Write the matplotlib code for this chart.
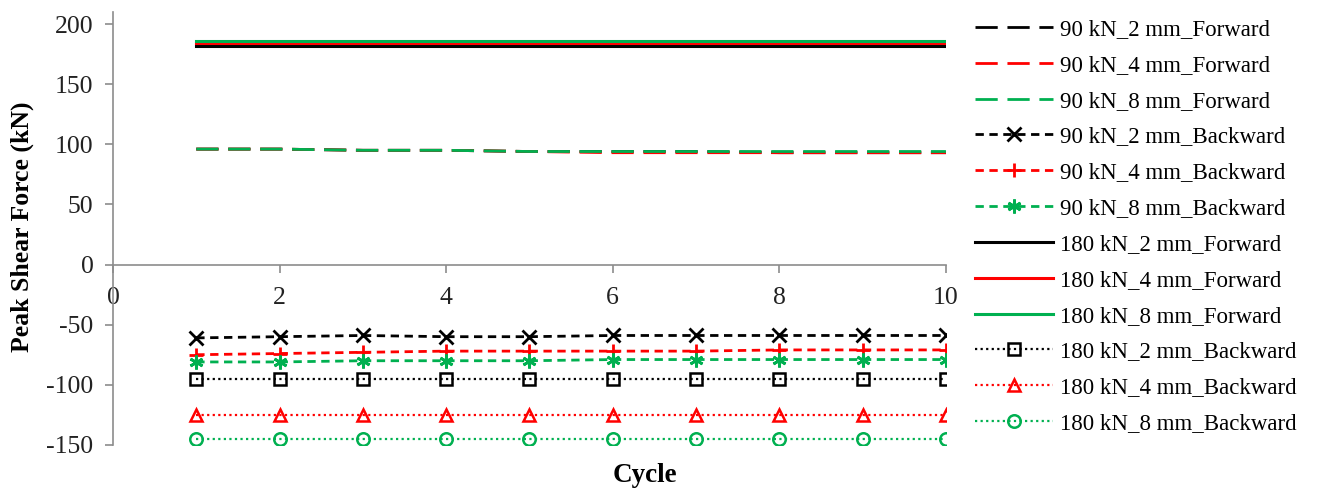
import numpy as np
import matplotlib
matplotlib.use("Agg")
import matplotlib.pyplot as plt

# data
cycles = np.arange(1, 11)

f90_2 = [96, 96, 95, 95, 94, 94, 94, 93, 93, 93]
f90_4 = [96, 96, 95, 95, 94, 93, 93, 93, 93, 93]
f90_8 = [96, 96, 95, 95, 94, 94, 94, 94, 94, 94]
b90_2 = [-61, -60, -59, -60, -60, -59, -59, -59, -59, -59]
b90_4 = [-75, -74, -73, -72, -72, -72, -72, -71, -71, -71]
b90_8 = [-81, -81, -80, -80, -80, -79, -79, -79, -79, -79]
f180_2 = [182, 182, 182, 182, 182, 182, 182, 182, 182, 182]
f180_4 = [184, 184, 184, 184, 184, 184, 184, 184, 184, 184]
f180_8 = [186, 186, 186, 186, 186, 186, 186, 186, 186, 186]
b180_2 = [-95, -95, -95, -95, -95, -95, -95, -95, -95, -95]
b180_4 = [-125, -125, -125, -125, -125, -125, -125, -125, -125, -125]
b180_8 = [-145, -145, -145, -145, -145, -145, -145, -145, -145, -145]

labels = [
    "90 kN_2 mm_Forward", "90 kN_4 mm_Forward", "90 kN_8 mm_Forward",
    "90 kN_2 mm_Backward", "90 kN_4 mm_Backward", "90 kN_8 mm_Backward",
    "180 kN_2 mm_Forward", "180 kN_4 mm_Forward", "180 kN_8 mm_Forward",
    "180 kN_2 mm_Backward", "180 kN_4 mm_Backward", "180 kN_8 mm_Backward",
]

black, red, green = "#000000", "#ff0000", "#00b050"

plt.rcParams["font.family"] = ["Liberation Serif", "DejaVu Serif"]
plt.rcParams["axes.unicode_minus"] = False

fig = plt.figure(figsize=(13.18, 4.9), dpi=100)
ax = fig.add_axes([0.0857, 0.092, 0.632, 0.8835])

# 90 kN forward: long dashes
for y, c, lab in zip([f90_2, f90_4, f90_8], [black, red, green], labels[0:3]):
    ax.plot(cycles, y, color=c, lw=2, dashes=(8, 3.5), label=lab)

# 90 kN backward: short dashes with markers
for y, c, m, lab in zip([b90_2, b90_4, b90_8], [black, red, green],
                        ["x", "+", (6, 2, 0)], labels[3:6]):
    ax.plot(cycles, y, color=c, lw=2, dashes=(3, 2), marker=m,
            markersize=10, markeredgewidth=2, label=lab)

# 180 kN forward: solid
for y, c, lab in zip([f180_2, f180_4, f180_8], [black, red, green], labels[6:9]):
    ax.plot(cycles, y, color=c, lw=2.2, label=lab)

# 180 kN backward: dotted with open markers
for y, c, m, lab in zip([b180_2, b180_4, b180_8], [black, red, green],
                        ["s", "^", "o"], labels[9:12]):
    ax.plot(cycles, y, color=c, lw=1.6, ls=(0, (1, 1.5)), marker=m,
            markersize=9, markerfacecolor="none", markeredgewidth=1.8,
            label=lab)

ax.set_xlim(0, 10)
ax.set_ylim(-150, 210)
ax.set_xticks([0, 2, 4, 6, 8, 10])
ax.set_yticks([-150, -100, -50, 0, 50, 100, 150, 200])

ax.spines["top"].set_visible(False)
ax.spines["right"].set_visible(False)
ax.spines["bottom"].set_position(("data", 0))
for s in ["left", "bottom"]:
    ax.spines[s].set_color("#8c8c8c")
    ax.spines[s].set_linewidth(1.2)
ax.tick_params(axis="both", colors="#8c8c8c", labelcolor="#222222",
               labelsize=18.5, length=6, width=1.2)
ax.tick_params(axis="x", pad=10)
ax.tick_params(axis="y", pad=8)

fig.text(0.017, 0.537, "Peak Shear Force (kN)", rotation=90, ha="center",
         va="center", fontsize=18.5, fontweight="bold")
fig.text(0.489, 0.03, "Cycle", ha="center", va="center", fontsize=19.5,
         fontweight="bold")

ax.legend(loc="upper left", bbox_to_anchor=(1.024, 1.005), frameon=False,
          fontsize=16.5, handlelength=3.4, handletextpad=0.3,
          labelspacing=0.645, borderaxespad=0.0)

fig.savefig("out.png", dpi=100)
